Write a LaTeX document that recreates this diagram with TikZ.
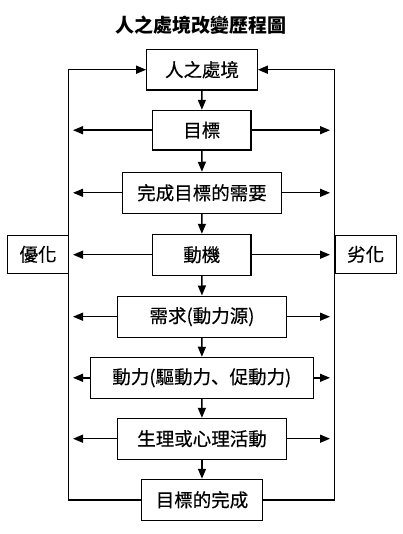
\documentclass[tikz,border=0pt]{standalone}
\usepackage{fontspec}
\setmainfont{Noto Sans CJK TC}
\newfontfamily\boxfont{Noto Sans CJK TC}[FakeBold=0.4]
\newfontfamily\jpcomma{Noto Sans CJK JP}[FakeBold=0.4]
\usetikzlibrary{arrows.meta}
\begin{document}
\begin{tikzpicture}[x=1pt,y=-1pt,
  box/.style={draw, line width=1.1pt, inner sep=0pt, font=\boxfont\fontsize{18.5}{20}\selectfont},
  conn/.style={line width=1.4pt, -{Triangle[length=10pt,width=8pt]}}]
\useasboundingbox (0,0) rectangle (403,534);
\node[font=\bfseries\fontsize{19}{21}\selectfont] (title) at (201,25) {人之處境改變歷程圖};
\node[box, minimum width=110.6pt, minimum height=40.7pt] (b1) at (202,69.7) {人之處境};
\node[box, minimum width=98.3pt, minimum height=39.7pt] (b2) at (201.8,130.2) {目標};
\node[box, minimum width=158.6pt, minimum height=41pt] (b3) at (202,192.8) {完成目標的需要};
\node[box, minimum width=98.3pt, minimum height=40.7pt] (b4) at (201.8,254.7) {動機};
\node[box, minimum width=168.6pt, minimum height=41.3pt] (b5) at (202,316.7) {需求(動力源)};
\node[box, minimum width=223pt, minimum height=41pt] (b6) at (201.8,377.8) {動力(驅動力{\jpcomma 、}促動力)};
\node[box, minimum width=168.6pt, minimum height=40.7pt] (b7) at (202,438.7) {生理或心理活動};
\node[box, minimum width=120.6pt, minimum height=41pt] (b8) at (202,499.8) {目標的完成};
\node[box, minimum width=60.6pt, minimum height=38pt] (opt) at (38,254.3) {優化};
\node[box, minimum width=61.3pt, minimum height=38pt] (deg) at (365.7,254.3) {劣化};
% vertical flow
\draw[conn] (b1) -- (b2);
\draw[conn] (b2) -- (b3);
\draw[conn] (b3) -- (b4);
\draw[conn] (b4) -- (b5);
\draw[conn] (b5) -- (b6);
\draw[conn] (b6) -- (b7);
\draw[conn] (b7) -- (b8);
% side arrows
\foreach \n in {b2,b3,b4,b5,b6,b7}{
  \coordinate (\n l) at (73,0 |- \n.west);
  \coordinate (\n r) at (330,0 |- \n.east);
  \draw[conn] (\n.west) -- (\n l);
  \draw[conn] (\n.east) -- (\n r);
}
% feedback loops
\coordinate (lb) at (68.3,0 |- b8.west);
\coordinate (lt) at (68.3,0 |- b1.west);
\coordinate (rb) at (334.6,0 |- b8.east);
\coordinate (rt) at (334.6,0 |- b1.east);
\draw[conn] (b8.west) -- (lb) -- (lt) -- (b1.west);
\draw[conn] (b8.east) -- (rb) -- (rt) -- (b1.east);
\end{tikzpicture}
\end{document}
